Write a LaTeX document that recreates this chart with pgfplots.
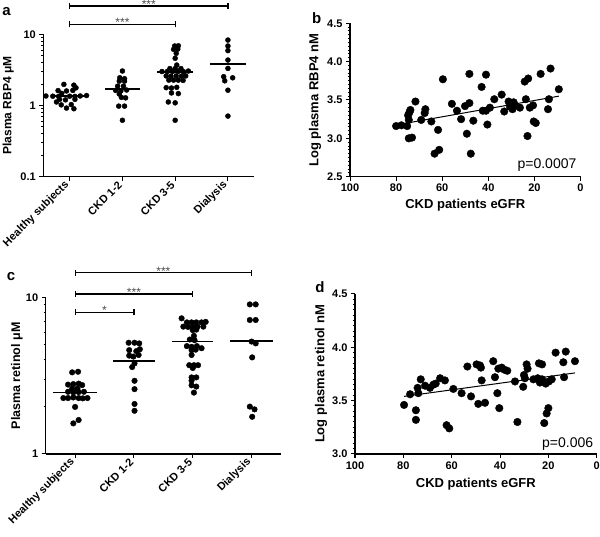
\documentclass[border=0pt]{standalone}
\usepackage{pgfplots}
\pgfplotsset{compat=1.18}
\usepackage{fontspec}
\setmainfont{Liberation Sans}

\pgfplotsset{
  gp/.style={
    scale only axis, clip=false,
    axis x line*=bottom, axis y line*=left,
    axis line style={line width=1.2pt,-},
    tick align=outside, tick style={line width=1pt,black},
    major tick length=4pt, minor tick length=2.2pt,
    /pgf/number format/assume math mode=true,
    tick label style={font=\bfseries\fontsize{11}{12}\selectfont},
    label style={font=\bfseries\fontsize{12.5}{14}\selectfont},
  },
  dots/.style={only marks, mark=*, mark size=#1, black, mark options={draw=black, fill=black}},
  med/.style={black, line width=1.6pt, no marks},
}
\tikzset{brk/.style={line width=1.2pt, black},
  st/.style={anchor=base, inner sep=0pt, yshift=-2.5pt, text=black!70, font=\fontsize{12}{12}\selectfont}}

\begin{document}
\begin{tikzpicture}
\path[use as bounding box] (0pt,0pt) rectangle (600pt,537pt);

% ---------------- panel a ----------------
\begin{axis}[gp, at={(43.3pt,360.3pt)}, anchor=south west,
  width=211pt, height=142.4pt,
  xmin=-0.5, xmax=3.5, ymode=log, ymin=0.1, ymax=10,
  ytick={0.1,1,10}, yticklabels={0.1,1,10},
  minor ytick={0.2,0.3,0.4,0.5,0.6,0.7,0.8,0.9,2,3,4,5,6,7,8,9},
  xtick={0,1,2,3}, xticklabels={Healthy subjects,CKD 1-2,CKD 3-5,Dialysis},
  xticklabel style={rotate=45, anchor=east},
  ylabel={Plasma RBP4 μM},
  ylabel style={at={(axis description cs:-0.166,0.5)}, anchor=center, font=\bfseries\fontsize{12}{14}\selectfont},
]
\addplot[dots=2.5pt] coordinates {
(-0.11,1.98) (0.08,1.93) (0.12,1.77) (-0.22,1.62) (-0.06,1.60) (0.06,1.63) (-0.15,1.48)
(-0.45,1.36) (-0.32,1.35) (-0.21,1.34) (0.0,1.35) (0.1,1.34) (0.2,1.36) (0.32,1.38)
(-0.19,1.22) (-0.08,1.20) (0.10,1.22) (-0.25,1.12) (-0.16,1.02) (0.03,1.03) (-0.06,0.92) (0.08,0.90)
};
\addplot[dots=2.5pt] coordinates {
(1.0,3.05) (0.95,2.45) (1.04,2.38) (0.94,2.2) (1.04,2.2) (0.91,1.87) (1.02,1.87)
(0.87,1.63) (0.97,1.6) (1.08,1.65) (0.94,1.45) (0.98,1.3) (1.06,1.28) (0.93,0.98) (1.04,0.98) (1.0,0.62)
};
\addplot[dots=2.5pt] coordinates {
(1.99,6.85) (2.06,6.9) (1.97,6.15) (2.05,6.2) (2.02,5.4) (2.0,4.6) (2.03,3.7)
(1.9,3.3) (2.0,3.3) (2.11,3.3)
(1.75,3.0) (1.85,3.0) (1.95,3.0) (2.06,3.02) (2.16,2.98) (2.25,3.05)
(1.83,2.6) (1.92,2.58) (2.02,2.6) (2.12,2.58) (2.2,2.6)
(1.88,2.27) (1.97,2.27) (2.06,2.27) (2.15,2.25)
(1.83,1.78) (1.93,1.76) (2.03,1.8) (1.93,1.5) (2.06,1.47) (1.87,1.12) (2.0,1.09) (2.0,0.62)
};
\addplot[dots=2.5pt] coordinates {
(3.0,8.3) (3.0,6.85) (3.0,5.9) (3.0,4.35) (3.0,3.32) (2.92,2.54) (3.09,2.45) (2.94,2.22) (3.0,1.64) (3.0,0.71)
};
\addplot[med] coordinates {(-0.34,1.36) (0.34,1.36)};
\addplot[med] coordinates {(0.67,1.72) (1.33,1.72)};
\addplot[med] coordinates {(1.66,2.98) (2.34,2.98)};
\addplot[med] coordinates {(2.66,3.82) (3.34,3.82)};
% brackets
\draw[brk] (axis cs:0,13.8) -- (axis cs:2,13.8);
\draw[brk] ([yshift=-3pt]axis cs:0,13.8) -- ([yshift=3pt]axis cs:0,13.8);
\draw[brk] ([yshift=-3pt]axis cs:2,13.8) -- ([yshift=3pt]axis cs:2,13.8);
\node[st] at (axis cs:1,13.8) {***};
\draw[brk] (axis cs:0,25) -- (axis cs:3,25);
\draw[brk] ([yshift=-3pt]axis cs:0,25) -- ([yshift=3pt]axis cs:0,25);
\draw[brk] ([yshift=-3pt]axis cs:3,25) -- ([yshift=3pt]axis cs:3,25);
\node[st] at (axis cs:1.5,25) {***};
\end{axis}

% ---------------- panel b ----------------
\begin{axis}[gp, at={(350pt,360.3pt)}, anchor=south west,
  width=230.5pt, height=153.4pt,
  xmin=0, xmax=100, x dir=reverse, ymin=2.5, ymax=4.5,
  xtick={0,20,40,60,80,100}, ytick={2.5,3.0,3.5,4.0,4.5},
  minor y tick num=9,
  yticklabel style={/pgf/number format/.cd, fixed, fixed zerofill, precision=1},
  xlabel={CKD patients eGFR}, ylabel={Log plasma RBP4 nM},
  xlabel style={at={(axis description cs:0.5,-0.185)}, anchor=center, font=\bfseries\fontsize{13}{14}\selectfont},
  ylabel style={at={(axis description cs:-0.152,0.5)}, anchor=center, font=\bfseries\fontsize{13}{14}\selectfont},
]
\addplot[dots=3.8pt] coordinates {
(80,3.16) (77.7,3.17) (75.2,3.16) (74.5,3.24) (74.8,3.30) (73.8,3.37) (74.2,3.34) (71.6,3.48)
(74.5,3.00) (73.1,3.01) (69.1,3.24) (67.3,3.38) (67.6,3.33) (64.7,3.22) (61.8,3.11) (63.3,2.80)
(61.3,2.85) (59.7,3.77) (55.8,3.45) (53.6,3.36) (51.8,3.25) (50.1,3.42) (48.2,3.46) (48.2,3.84)
(46.5,3.23) (49.3,3.06) (47.6,2.80) (42.9,3.67) (41.0,3.83) (42.4,3.36) (41.0,3.36) (39.3,3.40)
(40.4,3.18) (37.4,3.51) (34.2,3.57) (33.1,3.35) (31.2,3.48) (30.0,3.44) (29.0,3.47) (30.5,3.41)
(29.5,3.38) (28.5,3.43) (26.3,3.40) (23.7,3.51) (24.2,3.74) (22.7,3.78) (22.0,3.40) (20.6,3.43)
(20.3,3.22) (19.4,3.20) (23.0,3.03) (17.3,3.84) (13.0,3.91) (13.7,3.51) (14.1,3.38) (9.4,3.64)
};
\addplot[black, line width=1pt, no marks] coordinates {(75.2,3.20) (9.4,3.55)};
\node[anchor=east, inner sep=0pt, font=\fontsize{14}{14}\selectfont] at (rel axis cs:0.983,0.076) {p=0.0007};
\end{axis}

% ---------------- panel c ----------------
\begin{axis}[gp, at={(45.7pt,83pt)}, anchor=south west,
  width=235.3pt, height=156.3pt,
  xmin=-0.5, xmax=3.5, ymode=log, ymin=1, ymax=10,
  ytick={1,10}, yticklabels={1,10},
  minor ytick={2,3,4,5,6,7,8,9},
  xtick={0,1,2,3}, xticklabels={Healthy subjects,CKD 1-2,CKD 3-5,Dialysis},
  xticklabel style={rotate=45, anchor=east},
  ylabel={Plasma retinol μM},
  ylabel style={at={(axis description cs:-0.123,0.5)}, anchor=center, font=\bfseries\fontsize{12.5}{14}\selectfont},
]
\addplot[dots=2.8pt] coordinates {
(-0.05,3.33) (0.05,3.36) (-0.12,2.78) (-0.03,2.80) (0.06,2.82) (0.12,2.76) (-0.05,2.62) (0.04,2.62)
(-0.12,2.50) (-0.03,2.48) (0.06,2.49) (0.15,2.50) (-0.2,2.28) (-0.12,2.28) (-0.03,2.30) (0.06,2.28)
(0.13,2.27) (0.21,2.28) (0.0,2.00) (0.06,1.65) (-0.03,1.57)
};
\addplot[dots=2.8pt] coordinates {
(0.91,5.15) (1.01,5.15) (1.09,5.1) (0.92,4.62) (1.04,4.55) (1.1,4.68) (0.92,4.26) (0.99,4.2)
(1.08,4.3) (1.01,3.8) (0.97,3.6) (1.01,2.94) (1.01,2.6) (1.01,2.09) (1.01,1.89)
};
\addplot[dots=2.8pt] coordinates {
(1.81,7.38) (1.9,6.95) (1.98,6.95) (2.06,6.95) (2.15,6.95) (2.22,7.0) (1.84,6.53) (1.92,6.5)
(2.0,6.5) (2.08,6.53) (2.18,6.53) (2.0,6.2) (2.06,6.25) (2.02,5.7) (1.95,5.4) (2.03,5.35)
(1.9,4.9) (1.98,4.85) (2.07,4.9) (2.15,4.75) (1.98,4.62) (2.05,4.65) (1.98,4.3) (1.94,3.7)
(2.02,3.7) (2.09,3.7) (2.0,3.55) (1.98,3.09) (2.06,3.09) (1.98,2.95) (1.98,2.75) (2.06,2.7) (2.02,2.47)
};
\addplot[dots=2.8pt] coordinates {
(2.97,9.06) (3.07,9.06) (2.97,7.2) (3.07,7.2) (3.0,5.24) (3.07,5.1) (3.01,4.15) (2.97,2.01) (3.05,1.93) (3.01,1.73)
};
\addplot[med] coordinates {(-0.37,2.47) (0.37,2.47)};
\addplot[med] coordinates {(0.64,3.93) (1.36,3.93)};
\addplot[med] coordinates {(1.65,5.24) (2.35,5.24)};
\addplot[med] coordinates {(2.63,5.28) (3.37,5.28)};
\draw[brk] (axis cs:0,8.06) -- (axis cs:1,8.06);
\draw[brk] ([yshift=-3pt]axis cs:0,8.06) -- ([yshift=3pt]axis cs:0,8.06);
\draw[brk] ([yshift=-3pt]axis cs:1,8.06) -- ([yshift=3pt]axis cs:1,8.06);
\node[st] at (axis cs:0.5,8.06) {*};
\draw[brk] (axis cs:0,10.56) -- (axis cs:2,10.56);
\draw[brk] ([yshift=-3pt]axis cs:0,10.56) -- ([yshift=3pt]axis cs:0,10.56);
\draw[brk] ([yshift=-3pt]axis cs:2,10.56) -- ([yshift=3pt]axis cs:2,10.56);
\node[st] at (axis cs:1,10.56) {***};
\draw[brk] (axis cs:0,14.45) -- (axis cs:3,14.45);
\draw[brk] ([yshift=-3pt]axis cs:0,14.45) -- ([yshift=3pt]axis cs:0,14.45);
\draw[brk] ([yshift=-3pt]axis cs:3,14.45) -- ([yshift=3pt]axis cs:3,14.45);
\node[st] at (axis cs:1.5,14.45) {***};
\end{axis}

% ---------------- panel d ----------------
\begin{axis}[gp, at={(355pt,83pt)}, anchor=south west,
  width=241.7pt, height=160pt,
  xmin=0, xmax=100, x dir=reverse, ymin=3.0, ymax=4.5,
  xtick={0,20,40,60,80,100}, ytick={3.0,3.5,4.0,4.5},
  minor y tick num=9,
  yticklabel style={/pgf/number format/.cd, fixed, fixed zerofill, precision=1},
  xlabel={CKD patients eGFR}, ylabel={Log plasma retinol nM},
  xlabel style={at={(axis description cs:0.5,-0.1875)}, anchor=center, font=\bfseries\fontsize{13}{14}\selectfont},
  ylabel style={at={(axis description cs:-0.141,0.5)}, anchor=center, font=\bfseries\fontsize{13}{14}\selectfont},
]
\addplot[dots=3.8pt] coordinates {
(79.7,3.46) (77.2,3.56) (74.8,3.41) (74.8,3.32) (74.1,3.62) (73.8,3.57) (72.8,3.70) (71.0,3.64)
(69.0,3.62) (67.6,3.65) (66.6,3.66) (64.8,3.71) (62.8,3.69) (62.1,3.27) (61.0,3.24) (59.3,3.61)
(55.9,3.57) (53.5,3.82) (49.7,3.84) (48.3,3.83) (47.9,3.81) (52.0,3.54) (47.6,3.69) (49.0,3.47)
(46.2,3.48) (42.8,3.87) (42.1,3.72) (40.7,3.80) (39.3,3.81) (38.2,3.79) (37.0,3.78) (41.1,3.57)
(40.3,3.43) (33.8,3.68) (32.8,3.30) (30.4,3.63) (30.1,3.74) (29.0,3.84) (28.6,3.80) (29.7,3.71)
(26.2,3.70) (23.9,3.85) (22.6,3.84) (24.4,3.71) (23.5,3.67) (22.6,3.70) (21.7,3.29) (20.7,3.38)
(20.0,3.43) (21.1,3.66) (19.8,3.68) (18.6,3.70) (17.0,3.95) (12.8,3.96) (13.8,3.86) (13.5,3.72) (9.0,3.87)
};
\addplot[black, line width=1pt, no marks] coordinates {(79.7,3.54) (9.0,3.76)};
\node[anchor=east, inner sep=0pt, font=\fontsize{14}{14}\selectfont] at (rel axis cs:0.986,0.0625) {p=0.006};
\end{axis}

% panel letters
\node[font=\bfseries\fontsize{15}{15}\selectfont] at (6.5pt,525pt) {a};
\node[font=\bfseries\fontsize{15}{15}\selectfont] at (316.7pt,518.7pt) {b};
\node[font=\bfseries\fontsize{15}{15}\selectfont] at (11pt,260pt) {c};
\node[font=\bfseries\fontsize{15}{15}\selectfont] at (320pt,250.3pt) {d};
\end{tikzpicture}
\end{document}
